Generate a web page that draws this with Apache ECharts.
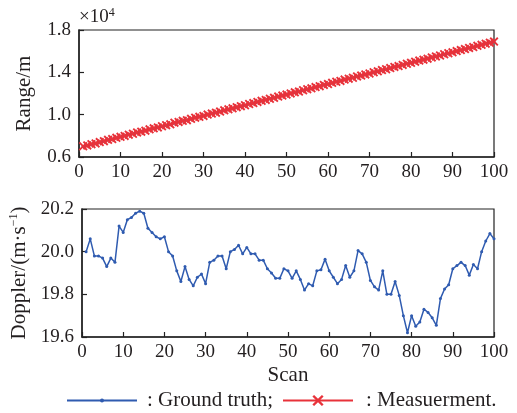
<!DOCTYPE html>
<html>
<head>
<meta charset="utf-8">
<script src="https://cdn.jsdelivr.net/npm/echarts@6/dist/echarts.min.js"></script>
<style>html,body{margin:0;padding:0;background:#fff}#c{width:517px;height:413px}</style>
</head>
<body>
<div id="c"></div>
<script>
var scans = [1,2,3,4,5,6,7,8,9,10,11,12,13,14,15,16,17,18,19,20,21,22,23,24,25,26,27,28,29,30,31,32,33,34,35,36,37,38,39,40,41,42,43,44,45,46,47,48,49,50,51,52,53,54,55,56,57,58,59,60,61,62,63,64,65,66,67,68,69,70,71,72,73,74,75,76,77,78,79,80,81,82,83,84,85,86,87,88,89,90,91,92,93,94,95,96,97,98,99,100];
var rangeTruth = [7000,7100,7200,7300,7400,7500,7600,7700,7800,7900,8000,8100,8200,8300,8400,8500,8600,8700,8800,8900,9000,9100,9200,9300,9400,9500,9600,9700,9800,9900,10000,10100,10200,10300,10400,10500,10600,10700,10800,10900,11000,11100,11200,11300,11400,11500,11600,11700,11800,11900,12000,12100,12200,12300,12400,12500,12600,12700,12800,12900,13000,13100,13200,13300,13400,13500,13600,13700,13800,13900,14000,14100,14200,14300,14400,14500,14600,14700,14800,14900,15000,15100,15200,15300,15400,15500,15600,15700,15800,15900,16000,16100,16200,16300,16400,16500,16600,16700,16800,16900];
var rangeMeas = [7015,7090,7210,7285,7410,7495,7620,7690,7815,7905,7990,8110,8195,8320,8395,8490,8615,8705,8790,8905,9010,9090,9240,9310,9420,9480,9610,9720,9795,9885,10010,10105,10190,10290,10410,10505,10595,10710,10800,10890,11010,11095,11205,11310,11390,11505,11590,11710,11805,11895,12005,12110,12185,12305,12410,12490,12605,12695,12810,12890,13005,13110,13190,13320,13400,13490,13610,13695,13805,13890,14010,14095,14215,14290,14405,14510,14590,14700,14810,14895,15005,15110,15195,15295,15410,15500,15590,15710,15805,15890,16010,16100,16195,16305,16390,16505,16595,16710,16800,16910];
var doppler = [20.00,20.06,19.98,19.98,19.97,19.93,19.97,19.95,20.12,20.09,20.15,20.16,20.18,20.19,20.18,20.11,20.09,20.07,20.06,20.07,20.00,19.98,19.91,19.86,19.93,19.87,19.84,19.88,19.895,19.85,19.95,19.96,19.98,19.98,19.92,20.00,20.01,20.03,19.99,20.02,19.99,19.99,19.96,19.96,19.92,19.90,19.875,19.875,19.92,19.91,19.875,19.91,19.87,19.82,19.85,19.84,19.91,19.915,19.965,19.91,19.88,19.85,19.87,19.935,19.88,19.91,20.005,19.99,19.95,19.865,19.835,19.82,19.91,19.80,19.80,19.86,19.795,19.70,19.62,19.70,19.65,19.67,19.73,19.715,19.69,19.655,19.78,19.825,19.845,19.92,19.935,19.95,19.935,19.89,19.94,19.92,20.00,20.05,20.085,20.06];
var xTicks = [0,100,10];
var rangeTicks = [6000,18000,4000];
var dopplerTicks = [19.6,20.2,0.2];
var legendNames = [': Ground truth;', ': Measuerment.'];

var FONT = 'Liberation Serif';
var TXT = '#231f20';
var BLUE = '#2f5bb0';
var RED = '#e8323a';
var crossPath = 'path://M0,1.5 L1.5,0 L5,3.5 L8.5,0 L10,1.5 L6.5,5 L10,8.5 L8.5,10 L5,6.5 L1.5,10 L0,8.5 L3.5,5 Z';

function pair(a, b) { return a.map(function (v, i) { return [v, b[i]]; }); }

function xAxisCfg(idx, name) {
  return {
    type: 'value', gridIndex: idx, min: xTicks[0], max: xTicks[1], interval: xTicks[2],
    name: name, nameLocation: 'middle', nameGap: 28,
    nameTextStyle: {fontFamily: FONT, fontSize: 21, color: TXT},
    axisLine: {onZero: false, lineStyle: {color: '#222', width: 1.5}},
    axisTick: {inside: true, length: 5, lineStyle: {color: '#222', width: 1.2}},
    axisLabel: {fontFamily: FONT, fontSize: 19, color: TXT, margin: 6},
    splitLine: {show: false}
  };
}

var chart = echarts.init(document.getElementById('c'));
chart.setOption({
  animation: false,
  backgroundColor: '#fff',
  grid: [
    {left: 79, right: 23, top: 30, height: 127, show: true, borderColor: '#222', borderWidth: 1.2, backgroundColor: 'transparent'},
    {left: 79, right: 23, top: 209, height: 128, show: true, borderColor: '#222', borderWidth: 1.2, backgroundColor: 'transparent'}
  ],
  xAxis: [xAxisCfg(0, ''), xAxisCfg(1, 'Scan')],
  yAxis: [
    {
      type: 'value', gridIndex: 0, min: rangeTicks[0], max: rangeTicks[1], interval: rangeTicks[2],
      name: 'Range/m', nameLocation: 'middle', nameGap: 44,
      nameTextStyle: {fontFamily: FONT, fontSize: 21, color: TXT},
      axisLine: {show: true, lineStyle: {color: '#222', width: 1.5}},
      axisTick: {inside: true, length: 5, lineStyle: {color: '#222', width: 1.2}},
      axisLabel: {fontFamily: FONT, fontSize: 19, color: TXT, margin: 8,
        formatter: function (v) { return (v / 10000).toFixed(1); }},
      splitLine: {show: false}
    },
    {
      type: 'value', gridIndex: 1, min: dopplerTicks[0], max: dopplerTicks[1], interval: dopplerTicks[2],
      name: 'Doppler/(m·s{sup|−1})', nameLocation: 'middle', nameGap: 52,
      nameTextStyle: {fontFamily: FONT, fontSize: 21, color: TXT,
        rich: {sup: {fontFamily: FONT, fontSize: 12, color: TXT, verticalAlign: 'top', padding: [0, 0, 10, 0]}}},
      axisLine: {show: true, lineStyle: {color: '#222', width: 1.5}},
      axisTick: {inside: true, length: 5, lineStyle: {color: '#222', width: 1.2}},
      axisLabel: {fontFamily: FONT, fontSize: 19, color: TXT, margin: 8,
        formatter: function (v) { return v.toFixed(1); }},
      splitLine: {show: false}
    }
  ],
  legend: [
    {
      top: 390, left: 66, itemWidth: 70, itemHeight: 5, padding: 0,
      textStyle: {fontFamily: FONT, fontSize: 21, color: TXT, padding: [0, 0, 0, 5]},
      data: [legendNames[0]]
    },
    {
      top: 390, left: 282, itemWidth: 70, itemHeight: 14, padding: 0,
      textStyle: {fontFamily: FONT, fontSize: 21, color: TXT, padding: [0, 0, 0, 8]},
      data: [legendNames[1]]
    }
  ],
  graphic: [{
    type: 'text', left: 79, top: 7,
    style: {text: '×10{s|4}', fontFamily: FONT, fontSize: 19, fill: TXT,
      rich: {s: {fontFamily: FONT, fontSize: 12, fill: TXT, verticalAlign: 'top', padding: [0, 0, 8, 0]}}}
  }],
  series: [
    {
      name: legendNames[0], type: 'line', xAxisIndex: 0, yAxisIndex: 0,
      data: pair(scans, rangeTruth), symbol: 'circle', symbolSize: 3,
      lineStyle: {color: BLUE, width: 1.5}, itemStyle: {color: BLUE}
    },
    {
      name: legendNames[1], type: 'line', xAxisIndex: 0, yAxisIndex: 0,
      data: pair(scans, rangeMeas), symbol: crossPath, symbolSize: 9,
      lineStyle: {color: RED, width: 2}, itemStyle: {color: RED}
    },
    {
      name: legendNames[0], type: 'line', xAxisIndex: 1, yAxisIndex: 1,
      data: pair(scans, doppler), symbol: 'circle', symbolSize: 3,
      lineStyle: {color: BLUE, width: 1.5}, itemStyle: {color: BLUE}
    }
  ]
});
</script>
</body>
</html>
